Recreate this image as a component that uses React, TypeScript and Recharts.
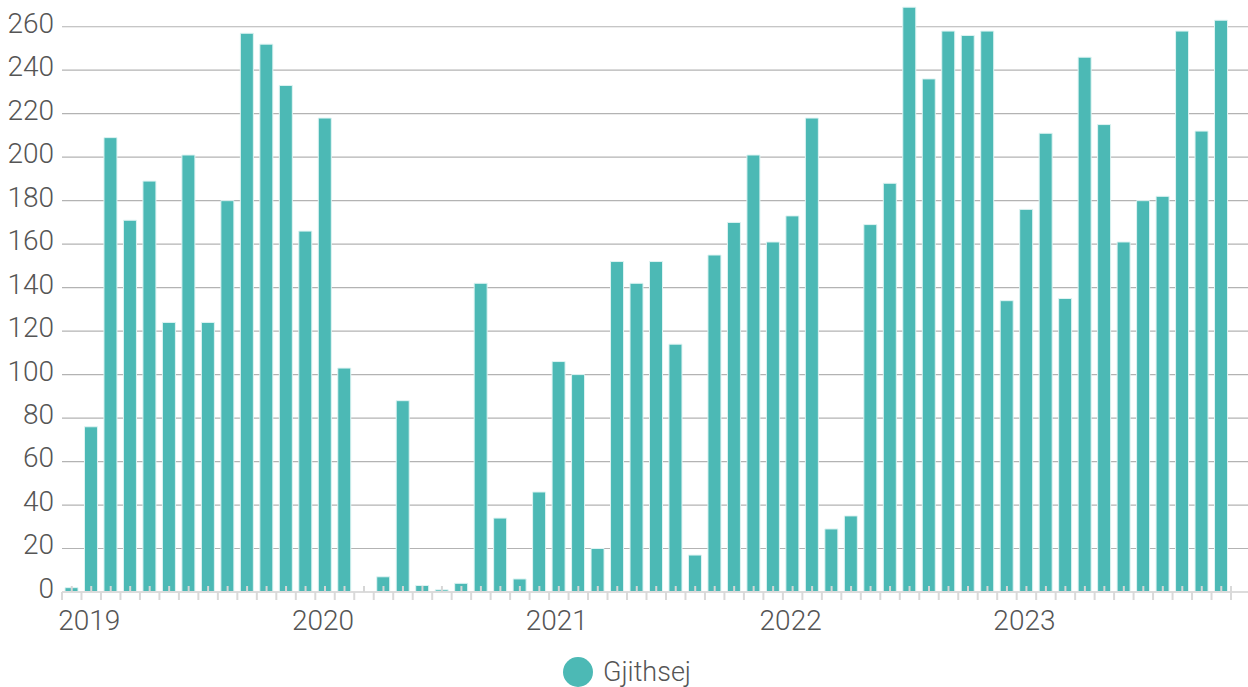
import React from "react";
import {
  BarChart,
  Bar,
  XAxis,
  YAxis,
  CartesianGrid,
  Legend,
} from "recharts";

// monthly totals, Dec 2018 .. Nov 2023
const months = [
  "2018-12",
  "2019-01", "2019-02", "2019-03", "2019-04", "2019-05", "2019-06",
  "2019-07", "2019-08", "2019-09", "2019-10", "2019-11", "2019-12",
  "2020-01", "2020-02", "2020-03", "2020-04", "2020-05", "2020-06",
  "2020-07", "2020-08", "2020-09", "2020-10", "2020-11", "2020-12",
  "2021-01", "2021-02", "2021-03", "2021-04", "2021-05", "2021-06",
  "2021-07", "2021-08", "2021-09", "2021-10", "2021-11", "2021-12",
  "2022-01", "2022-02", "2022-03", "2022-04", "2022-05", "2022-06",
  "2022-07", "2022-08", "2022-09", "2022-10", "2022-11", "2022-12",
  "2023-01", "2023-02", "2023-03", "2023-04", "2023-05", "2023-06",
  "2023-07", "2023-08", "2023-09", "2023-10", "2023-11",
];

const totals = [
  2,
  76, 209, 171, 189, 124, 201, 124, 180, 257, 252, 233, 166,
  218, 103, 0, 7, 88, 3, 1, 4, 142, 34, 6, 46,
  106, 100, 20, 152, 142, 152, 114, 17, 155, 170, 201, 161,
  173, 218, 29, 35, 169, 188, 269, 236, 258, 256, 258, 134,
  176, 211, 135, 246, 215, 161, 180, 182, 258, 212, 263,
];

const yTicks = [0, 20, 40, 60, 80, 100, 120, 140, 160, 180, 200, 220, 240, 260];

const seriesName = "Gjithsej";

const data = months.map((m, i) => ({ month: m, total: totals[i] }));

const W = 1248;
const H = 687;
const LEFT = 62;
const PAD_RIGHT = 17;
const BAND = (W - LEFT - PAD_RIGHT) / months.length;
const TEAL = "#4cb9b5";
const TEXT = "#555555";

const MonthTick = (props: any) => {
  const { x, y, payload, index } = props;
  const value: string = payload.value;
  const [year, mon] = value.split("-");
  const left = x - BAND / 2;
  const last = index === months.length - 1;
  return (
    <g>
      <line x1={left} x2={left} y1={y} y2={y + 8} stroke="#d9d9d9" strokeWidth={2} />
      {last && (
        <line x1={x + BAND / 2} x2={x + BAND / 2} y1={y - 6} y2={y + 8} stroke="#d9d9d9" strokeWidth={2} />
      )}
      <line x1={x} x2={x} y1={y - 6} y2={y} stroke="#d6d6d6" strokeWidth={2} />
      {mon === "01" && (
        <text x={x - 2} y={y + 38} textAnchor="middle" fontSize={28} fontWeight={300} fill={TEXT}>
          {year}
        </text>
      )}
    </g>
  );
};

const ValueTick = (props: any) => {
  const { x, y, payload } = props;
  return (
    <text x={x} y={y - 4} dy="0.355em" textAnchor="end" fontSize={28} fontWeight={300} fill={TEXT}>
      {payload.value}
    </text>
  );
};

const LegendContent = () => (
  <div
    style={{
      display: "flex",
      justifyContent: "center",
      alignItems: "center",
      height: 30,
      paddingLeft: 6,
    }}
  >
    <span
      style={{
        display: "inline-block",
        width: 30,
        height: 30,
        borderRadius: "50%",
        background: TEAL,
      }}
    />
    <span style={{ marginLeft: 10, fontSize: 27, fontWeight: 300, color: TEXT, lineHeight: "30px" }}>
      {seriesName}
    </span>
  </div>
);

export default function App() {
  return (
    <div
      style={{
        position: "absolute",
        left: 0,
        top: 0,
        width: W,
        height: H,
        background: "#fff",
        fontFamily: "Roboto, sans-serif",
      }}
    >
      <BarChart
        width={W}
        height={H}
        data={data}
        margin={{ top: 5, right: 0, bottom: 0, left: 0 }}
        barSize={13}
      >
        <CartesianGrid
          vertical={false}
          horizontalValues={yTicks}
          stroke="#b3b3b3"
          strokeWidth={1.2}
        />
        <YAxis
          width={LEFT}
          domain={[0, 270]}
          ticks={yTicks}
          axisLine={false}
          tickLine={false}
          tick={<ValueTick />}
          interval={0}
        />
        <Bar
          dataKey="total"
          name={seriesName}
          fill={TEAL}
          stroke="#dff4f3"
          strokeWidth={1}
          isAnimationActive={false}
        />
        <XAxis
          dataKey="month"
          height={65}
          interval={0}
          tickSize={0}
          tickMargin={0}
          tickLine={false}
          axisLine={{ stroke: "#dcdcdc", strokeWidth: 2 }}
          padding={{ left: 0, right: PAD_RIGHT }}
          tick={<MonthTick />}
        />
        <Legend verticalAlign="bottom" height={30} content={<LegendContent />} />
      </BarChart>
    </div>
  );
}
